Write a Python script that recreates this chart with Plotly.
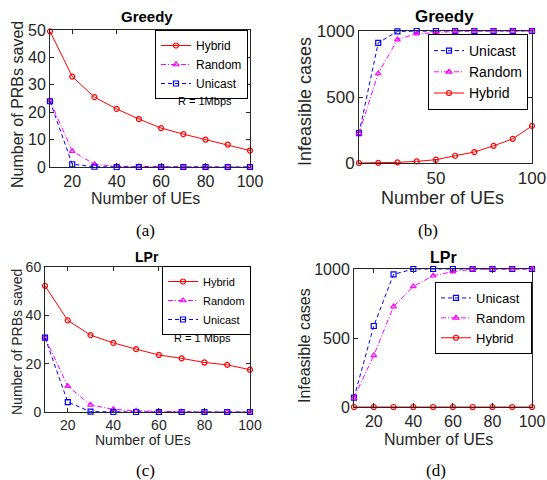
import plotly.graph_objects as go

W, H = 547, 480

# ---------------- data ----------------
ues = [10, 20, 30, 40, 50, 60, 70, 80, 90, 100]

# (a) Greedy - Number of PRBs saved
a_hybrid = [49.5, 33.0, 25.5, 21.2, 17.5, 14.2, 12.0, 10.0, 8.2, 6.0]
a_random = [24.2, 5.8, 1.0, 0.3, 0.2, 0.1, 0.05, 0.0, 0.0, 0.0]
a_unicast = [24.0, 1.0, 0.1, 0.0, 0.0, 0.0, 0.0, 0.0, 0.0, 0.0]

# (b) Greedy - Infeasible cases
b_unicast = [226, 910, 997, 1000, 1000, 1000, 1000, 1000, 1000, 1000]
b_random = [225, 678, 935, 980, 987, 997, 1000, 1000, 1000, 1000]
b_hybrid = [0, 1, 5, 12, 25, 55, 83, 130, 183, 281]

# (c) LPr - Number of PRBs saved
c_hybrid = [52.2, 37.9, 31.8, 28.6, 26.0, 23.6, 22.2, 20.5, 19.5, 17.5]
c_random = [30.8, 10.7, 2.9, 1.1, 0.5, 0.2, 0.1, 0.0, 0.0, 0.0]
c_unicast = [30.8, 4.1, 0.15, 0.0, 0.0, 0.0, 0.0, 0.0, 0.0, 0.0]

# (d) LPr - Infeasible cases
d_unicast = [68, 587, 961, 1000, 1000, 1000, 1000, 1000, 1000, 1000]
d_random = [68, 374, 728, 874, 951, 981, 998, 1000, 1000, 1000]
d_hybrid = [0, 0, 0, 0, 0, 0, 0, 0, 0, 0]

titles = ["Greedy", "Greedy", "LPr", "LPr"]
captions = ["(a)", "(b)", "(c)", "(d)"]
ytitle_prb = "Number of PRBs saved"
ytitle_inf = "Infeasible cases"
xtitle = "Number of UEs"
rate_a = "R = 1Mbps"
rate_c = "R = 1 Mbps"

# ---------------- styles ----------------
RED, MAG, BLUE = "#FF0000", "#FF00FF", "#0000FF"
AX = "#262626"
SANS = "Liberation Sans, Arial, sans-serif"
SERIF = "Liberation Serif, Times New Roman, serif"

style = {
    "Hybrid": dict(color=RED, dash="solid", symbol="circle-open"),
    "Random": dict(color=MAG, dash="5px,2px,1px,2px", symbol="triangle-up-open"),
    "Unicast": dict(color=BLUE, dash="4px,3px", symbol="square-open"),
}


def px_x(p):
    return p / W


def px_y(p):
    return 1 - p / H


fig = go.Figure()

panels = [
    dict(sfx="", leg="legend", series=[("Hybrid", a_hybrid), ("Random", a_random), ("Unicast", a_unicast)],
         box=(50, 250, 30, 167), fs=16, yt=[0, 10, 20, 30, 40, 50], xt=[20, 40, 60, 80, 100], yr=[0, 50]),
    dict(sfx="2", leg="legend2", series=[("Unicast", b_unicast), ("Random", b_random), ("Hybrid", b_hybrid)],
         box=(359, 532, 31, 163), fs=17, yt=[0, 500, 1000], xt=[50, 100], yr=[0, 1000]),
    dict(sfx="3", leg="legend3", series=[("Hybrid", c_hybrid), ("Random", c_random), ("Unicast", c_unicast)],
         box=(45, 250, 267, 412), fs=14, yt=[0, 20, 40, 60], xt=[20, 40, 60, 80, 100], yr=[0, 60]),
    dict(sfx="4", leg="legend4", series=[("Unicast", d_unicast), ("Random", d_random), ("Hybrid", d_hybrid)],
         box=(354, 532, 269, 407), fs=16, yt=[0, 500, 1000], xt=[20, 40, 60, 80, 100], yr=[0, 1000]),
]

layout = {}
for i, p in enumerate(panels):
    sfx = p["sfx"]
    for name, vals in p["series"]:
        st = style[name]
        fig.add_trace(go.Scatter(
            x=ues, y=vals, name=name, mode="lines+markers",
            xaxis="x" + sfx, yaxis="y" + sfx, legend=p["leg"],
            legendgroup=f"{i}_{name}",
            line=dict(color=st["color"], dash=st["dash"], width=1),
            marker=dict(symbol=st["symbol"], size=5, color=st["color"],
                        line=dict(color=st["color"], width=1.2)),
            cliponaxis=False,
        ))
    x0, x1, y0, y1 = p["box"]
    common = dict(showline=True, linecolor=AX, linewidth=1, mirror="allticks",
                  ticks="inside", ticklen=4, tickcolor=AX, showgrid=False, zeroline=False,
                  automargin=False, ticklabeloverflow="allow",
                  tickfont=dict(family=SANS, size=p["fs"], color=AX))
    layout["xaxis" + sfx] = dict(domain=[px_x(x0), px_x(x1)], range=[10, 100],
                                 tickvals=p["xt"], anchor="y" + sfx, **common)
    layout["yaxis" + sfx] = dict(domain=[px_y(y1), px_y(y0)], range=p["yr"],
                                 tickvals=p["yt"], anchor="x" + sfx, **common)

legend_common = dict(bgcolor="white", bordercolor="black", borderwidth=1,
                     xanchor="right", yanchor="top", traceorder="normal",
                     itemwidth=30, tracegroupgap=0)
layout["legend"] = dict(x=px_x(248), y=px_y(30), font=dict(family=SANS, size=12, color="black"),
                        **legend_common)
layout["legend2"] = dict(x=px_x(528), y=px_y(34), font=dict(family=SANS, size=14, color="black"),
                         **legend_common)
layout["legend3"] = dict(x=px_x(251), y=px_y(266), font=dict(family=SANS, size=11, color="black"),
                         **legend_common)
layout["legend4"] = dict(x=px_x(532), y=px_y(282), font=dict(family=SANS, size=13, color="black"),
                         **legend_common)

ann = []


def add_text(text, x, y, size, family=SANS, angle=0, color=AX):
    ann.append(dict(text=text, x=px_x(x), y=px_y(y), xref="paper", yref="paper",
                    showarrow=False, xanchor="center", yanchor="middle", textangle=angle,
                    font=dict(family=family, size=size, color=color)))


# titles
add_text("<b>" + titles[0] + "</b>", 147, 17, 15, color="black")
add_text("<b>" + titles[1] + "</b>", 444, 17, 17, color="black")
add_text("<b>" + titles[2] + "</b>", 147, 257, 14, color="black")
add_text("<b>" + titles[3] + "</b>", 443, 257, 16, color="black")
# axis titles
add_text(ytitle_prb, 17, 105, 16, angle=-90)
add_text(xtitle, 145, 198, 16)
add_text(ytitle_inf, 305, 101, 18, angle=-90)
add_text(xtitle, 442, 198, 18)
add_text(ytitle_prb, 17, 342, 14, angle=-90)
add_text(xtitle, 143, 440, 14)
add_text(ytitle_inf, 304, 346, 16, angle=-90)
add_text(xtitle, 438, 439, 16)
# rate notes
add_text(rate_a, 205, 101, 11, color="black")
add_text(rate_c, 202, 338, 11, color="black")
# captions
add_text(captions[0], 145, 231, 17, family=SERIF, color="black")
add_text(captions[1], 428, 231, 17, family=SERIF, color="black")
add_text(captions[2], 145, 470, 17, family=SERIF, color="black")
add_text(captions[3], 436, 470, 17, family=SERIF, color="black")

fig.update_layout(
    width=W, height=H, margin=dict(l=0, r=0, t=0, b=0, autoexpand=False),
    paper_bgcolor="white", plot_bgcolor="white",
    showlegend=True, annotations=ann, **layout,
)

fig.write_html("out.html", config={"displayModeBar": False},
               post_script="document.body.style.margin='0px';")
